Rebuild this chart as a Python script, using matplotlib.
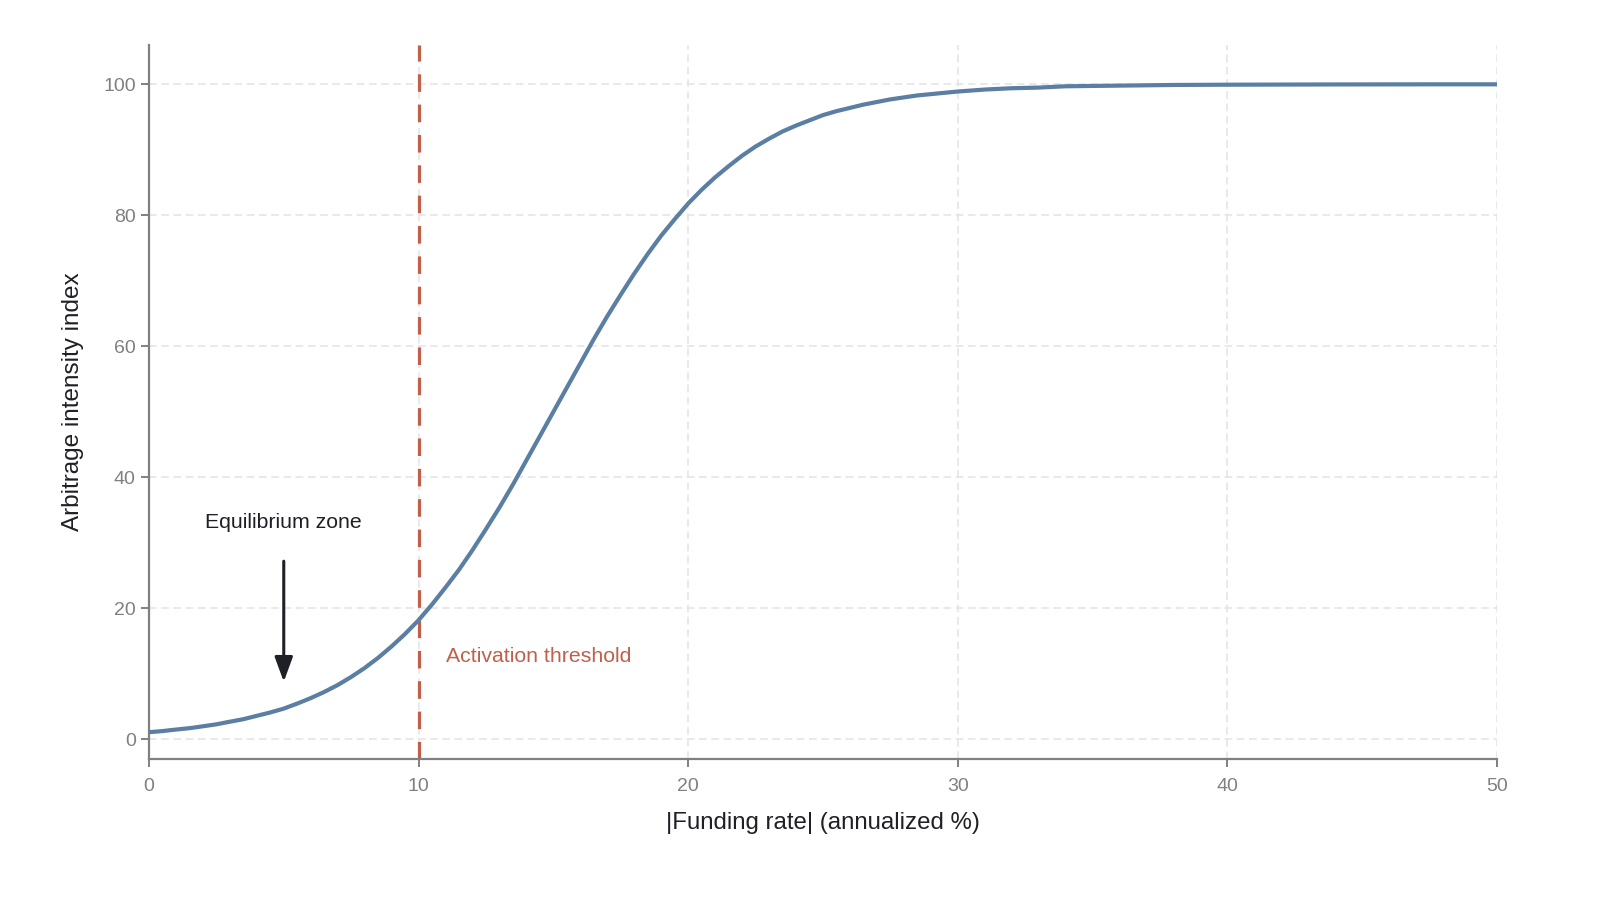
import matplotlib
matplotlib.use("Agg")
import matplotlib.pyplot as plt

# Valores (índice de intensidad de arbitraje)
funding_rate = [
    0, 0.5, 1, 1.5, 2, 2.5, 3, 3.5, 4, 4.5, 5, 5.5, 6, 6.5, 7, 7.5, 8, 8.5, 9, 9.5,
    10, 10.5, 11, 11.5, 12, 12.5, 13, 13.5, 14, 14.5, 15, 15.5, 16, 16.5, 17, 17.5,
    18, 18.5, 19, 19.5, 20, 20.5, 21, 21.5, 22, 22.5, 23, 23.5, 24, 24.5, 25, 25.5,
    26, 26.5, 27, 27.5, 28, 28.5, 29, 29.5, 30, 31, 32, 33, 34, 35, 36, 37, 38, 39,
    40, 42, 44, 46, 48, 50,
]
intensity = [
    1.1, 1.27, 1.5, 1.71, 2.0, 2.3, 2.7, 3.08, 3.6, 4.11, 4.7, 5.47, 6.3, 7.24, 8.3, 9.53,
    10.9, 12.45, 14.2, 16.1, 18.2, 20.6, 23.2, 25.9, 28.9, 32.1, 35.4, 38.9, 42.6, 46.3,
    50.0, 53.7, 57.4, 61.1, 64.6, 67.9, 71.1, 74.1, 76.9, 79.4, 81.8, 83.9, 85.8, 87.5,
    89.1, 90.5, 91.7, 92.8, 93.7, 94.5, 95.3, 95.9, 96.4, 96.9, 97.3, 97.7, 98.0, 98.3,
    98.5, 98.7, 98.9, 99.2, 99.4, 99.5, 99.7, 99.75, 99.8, 99.85, 99.9, 99.92,
    99.94, 99.96, 99.98, 99.99, 100.0, 100.0,
]
threshold = 10
eq_x = 5

plt.rcParams["font.family"] = ["Liberation Sans", "DejaVu Sans"]

fig = plt.figure(figsize=(16, 9.11), dpi=100)
ax = fig.add_axes([0.0931, 0.1668, 0.8425, 0.7838])

ax.plot(funding_rate, intensity, color="#5b7ea3", linewidth=3, solid_joinstyle="round",
        solid_capstyle="butt", zorder=3)
ax.axvline(threshold, color="#c0604b", linewidth=2.3, linestyle=(0, (5.5, 4)), zorder=2)

ax.text(threshold + 1, 12.7, "Activation threshold", color="#c0604b", fontsize=15.3,
        va="center", ha="left")
ax.annotate("", xy=(eq_x, 8.8), xytext=(eq_x, 27.2),
            arrowprops=dict(arrowstyle="-|>,head_length=1.5,head_width=0.55",
                            color="#1f1f26", lw=2.2, shrinkA=0, shrinkB=0))
ax.text(eq_x, 33.1, "Equilibrium zone", color="#1f1f26", fontsize=15.3,
        ha="center", va="center")

ax.set_xlim(0, 50)
ax.set_ylim(-3, 106)
ax.set_xticks([0, 10, 20, 30, 40, 50])
ax.set_yticks([0, 20, 40, 60, 80, 100])

ax.grid(True, color="#e3e3e6", linestyle=(0, (5, 3)), linewidth=1.1)
ax.set_axisbelow(True)
for side in ["top", "right"]:
    ax.spines[side].set_visible(False)
for side in ["left", "bottom"]:
    ax.spines[side].set_color("#808080")
    ax.spines[side].set_linewidth(1.6)

ax.tick_params(colors="#808080", labelcolor="#808080", labelsize=14, width=1.4, length=6)
ax.tick_params(axis="x", pad=8)
ax.set_xlabel("|Funding rate| (annualized %)", fontsize=17.3, color="#1f1f26", labelpad=12)
ax.set_ylabel("Arbitrage intensity index", fontsize=17.5, color="#1f1f26", labelpad=14)

plt.savefig("out.png", dpi=100)
